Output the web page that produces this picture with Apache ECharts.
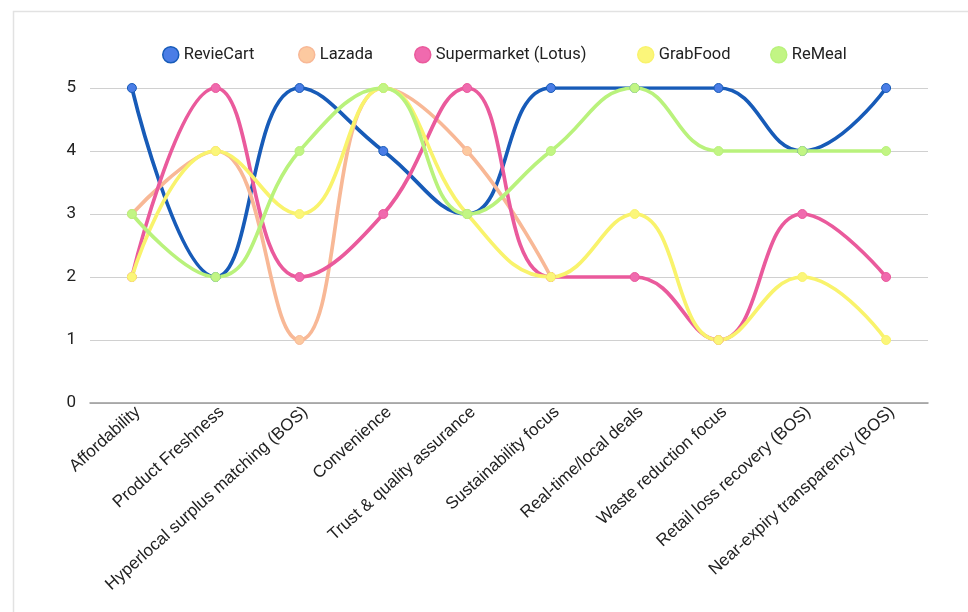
<!DOCTYPE html>
<html>
<head>
<meta charset="utf-8">
<script src="https://cdn.jsdelivr.net/npm/echarts@6/dist/echarts.min.js"></script>
<style>
  html, body { margin: 0; padding: 0; background: #fff; }
  #main { width: 968px; height: 612px; }
</style>
</head>
<body>
<div id="main"></div>
<script>
// categories on the x axis
const categories = [
  'Affordability',
  'Product Freshness',
  'Hyperlocal surplus matching (BOS)',
  'Convenience',
  'Trust & quality assurance',
  'Sustainability focus',
  'Real-time/local deals',
  'Waste reduction focus',
  'Retail loss recovery (BOS)',
  'Near-expiry transparency (BOS)'
]

// scores per platform
const revieCart = [5, 2, 5, 4, 3, 5, 5, 5, 4, 5]
const lazada = [3, 4, 1, 5, 4, 2, null, null, null, null]
const supermarket = [2, 5, 2, 3, 5, 2, 2, 1, 3, 2]
const grabFood = [2, 4, 3, 5, 3, 2, 3, 1, 2, 1]
const reMeal = [3, 2, 4, 5, 3, 4, 5, 4, 4, 4]

const seriesNames = ['RevieCart', 'Lazada', 'Supermarket (Lotus)', 'GrabFood', 'ReMeal']
const seriesData = [revieCart, lazada, supermarket, grabFood, reMeal]
// line colour, marker colour
const lineColors = ['#175bb8', '#f8b896', '#ea5a9c', '#f9f36c', '#b9f27c']
const dotColors = ['#4a7de6', '#fcc9a0', '#f06aae', '#fbf67a', '#c2f584']

const yTicks = [0, 1, 2, 3, 4, 5]

// legend entries are spaced out like the original, one small legend each
const legendLefts = [157, 293, 409, 632, 765]

let chart = echarts.init(document.getElementById('main'), null, { renderer: 'canvas' })

let series = seriesNames.map((name, i) => {
  return {
    name: name,
    type: 'line',
    data: seriesData[i],
    smooth: 0.45,
    symbol: 'circle',
    symbolSize: 9,
    lineStyle: { color: lineColors[i], width: 3.7 },
    itemStyle: { color: dotColors[i], borderColor: lineColors[i], borderWidth: 1 },
    emphasis: { disabled: true }
  }
})

let legends = seriesNames.map((name, i) => {
  return {
    top: 41,
    left: legendLefts[i],
    itemWidth: 16,
    itemHeight: 16,
    itemGap: 0,
    icon: 'circle',
    textStyle: { fontSize: 16.5, color: '#222', fontFamily: 'Roboto, sans-serif' },
    data: [{
      name: name,
      itemStyle: { color: dotColors[i], borderColor: lineColors[i], borderWidth: 1.5 }
    }]
  }
})

chart.setOption({
  backgroundColor: '#fff',
  animation: false,
  textStyle: { fontFamily: 'Roboto, Arial, sans-serif' },
  graphic: [{
    type: 'rect',
    left: 11,
    top: 9,
    shape: { width: 980, height: 620 },
    style: { fill: 'none', stroke: '#e2e2e2', lineWidth: 1.5 },
    silent: true,
    z: -1
  }],
  legend: legends,
  grid: {
    left: 90, right: 40, top: 88, bottom: 209,
    containLabel: false,
    outerBoundsMode: 'none'
  },
  xAxis: {
    type: 'category',
    data: categories,
    boundaryGap: true,
    axisLine: { lineStyle: { color: '#999', width: 1.5 } },
    axisTick: { show: false },
    axisLabel: {
      rotate: 42,
      interval: 0,
      fontSize: 17,
      color: '#222',
      margin: 12,
      padding: [0, -8, 0, 0],
      fontFamily: 'Liberation Sans, Arial, sans-serif'
    }
  },
  yAxis: {
    type: 'value',
    min: yTicks[0],
    max: yTicks[yTicks.length - 1],
    interval: 1,
    axisLine: { show: false },
    axisTick: { show: false },
    axisLabel: { fontSize: 17, color: '#222', margin: 14 },
    splitLine: { lineStyle: { color: '#d0d0d0', width: 1.2 } }
  },
  series: series
})
</script>
</body>
</html>
